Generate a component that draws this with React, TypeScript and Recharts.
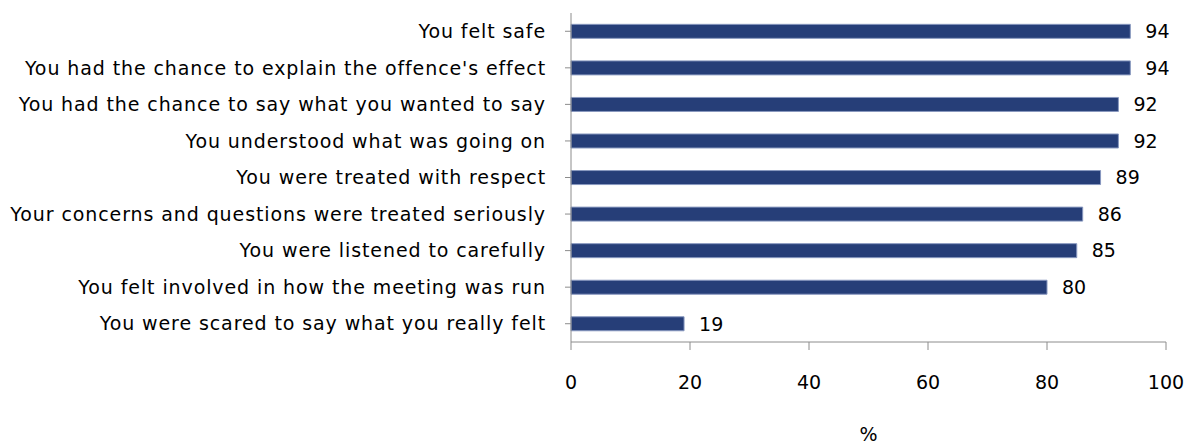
import React from 'react';
import { BarChart, Bar, XAxis, YAxis, LabelList } from 'recharts';

const categories = [
  'You felt safe',
  "You had the chance to explain the offence's effect",
  'You had the chance to say what you wanted to say',
  'You understood what was going on',
  'You were treated with respect',
  'Your concerns and questions were treated seriously',
  'You were listened to carefully',
  'You felt involved in how the meeting was run',
  'You were scared to say what you really felt',
];
const values = [94, 94, 92, 92, 89, 86, 85, 80, 19];
const xTicks = [0, 20, 40, 60, 80, 100];

const data = categories.map((c, i) => ({ name: c, value: values[i] }));

const FONT = 'DejaVu Sans, sans-serif';

export default function App() {
  return (
    <div style={{ width: 1198, height: 444 }}>
      <style>{'body{margin:0}'}</style>
      <BarChart
        width={1198}
        height={444}
        data={data}
        layout="vertical"
        margin={{ top: 13, right: 32, bottom: 0, left: 0 }}
        barCategoryGap="31%"
      >
        <XAxis
          type="number"
          domain={[0, 100]}
          ticks={xTicks}
          height={102}
          tickSize={8}
          tickMargin={26}
          stroke="#8c8c8c"
          tick={{ fill: '#000', fontSize: 19, fontFamily: FONT }}
          label={{ value: '%', position: 'insideBottom', offset: 3, fill: '#000', fontSize: 19, fontFamily: FONT }}
        />
        <YAxis
          type="category"
          dataKey="name"
          width={571}
          tickSize={6}
          tickMargin={19}
          stroke="#8c8c8c"
          interval={0}
          tick={{ fill: '#000', fontSize: 19, fontFamily: FONT, letterSpacing: 0.9 }}
        />
        <Bar dataKey="value" fill="#263E78" stroke="#8898bf" strokeWidth={1} isAnimationActive={false}>
          <LabelList dataKey="value" position="right" offset={15} fill="#000" fontSize={19} fontFamily={FONT} />
        </Bar>
      </BarChart>
    </div>
  );
}
